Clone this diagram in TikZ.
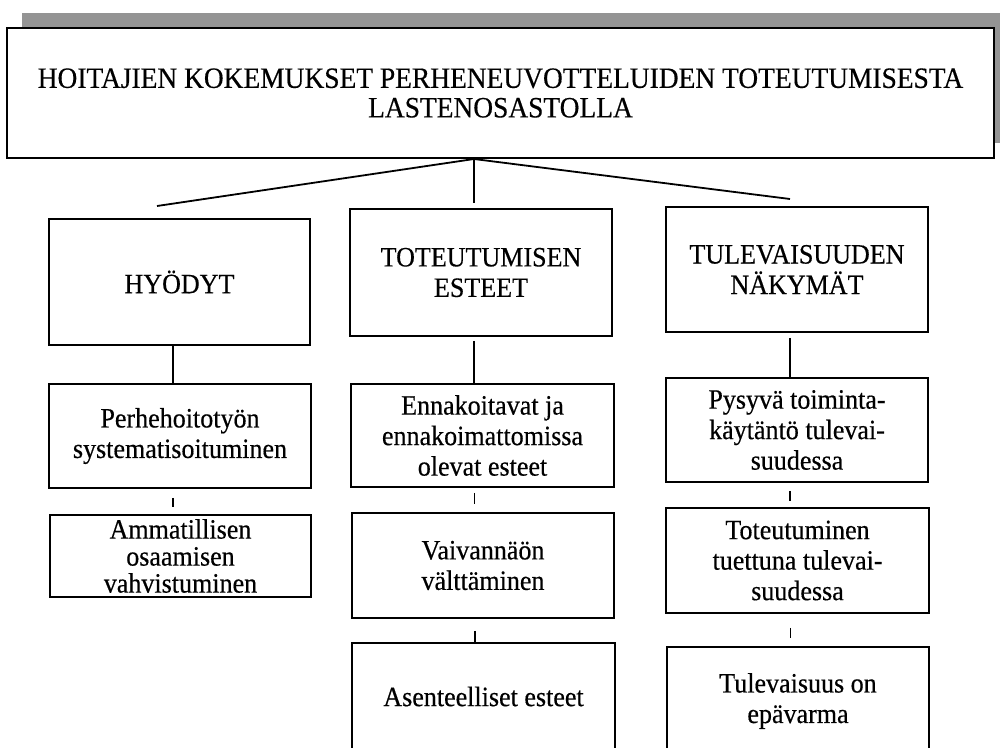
\documentclass[tikz,border=0pt]{standalone}
\usepackage{fontspec}
\setmainfont{Liberation Serif}[FakeStretch=0.93,FakeBold=0.4]
\begin{document}
\begin{tikzpicture}[x=1pt,y=-1pt,
  box/.style={draw,line width=1.8pt,fill=white,align=center,inner sep=0pt,
              font=\fontsize{28}{30.5}\selectfont},
  link/.style={line width=1.8pt},
  tick/.style={line width=1.6pt}]
% page frame
\clip (0,0) rectangle (1000,747);
\fill[white] (0,0) rectangle (1000,747);

% shaded backing of the heading
\fill[black!42] (22,13) rectangle (1012,143);
\node[box,line width=2pt,minimum width=987pt,minimum height=130pt,
      font=\fontsize{29.5}{29.5}\selectfont] (title) at (500.5,93)
  {HOITAJIEN KOKEMUKSET PERHENEUVOTTELUIDEN TOTEUTUMISESTA\\LASTENOSASTOLLA};

% branching lines under the heading
\coordinate (apex) at ([xshift=-26.5pt]title.south);
\coordinate (lend) at (157,206);
\coordinate (mend) at (474,203);
\coordinate (rend) at (790,199);
\draw[link] (lend) -- (apex) -- (rend);
\draw[link] (apex) -- (mend);

% main categories
\node[box,minimum width=261pt,minimum height=126pt] (hyo) at (179.5,282) {HYÖDYT};
\node[box,minimum width=262pt,minimum height=127pt] (est) at (481,272.5) {TOTEUTUMISEN\\ESTEET};
\node[box,minimum width=262pt,minimum height=125pt] (tul) at (797,269.5) {TULEVAISUUDEN\\NÄKYMÄT};

% sub-categories
\node[box,minimum width=262pt,minimum height=104pt] (l1) at (180,436) {Perhehoitotyön\\systematisoituminen};
\node[box,minimum width=261pt,minimum height=82pt,
      font=\fontsize{28}{27}\selectfont] (l2) at (180.5,556) {Ammatillisen\\osaamisen\\vahvistuminen};

\node[box,minimum width=263pt,minimum height=103pt] (m1) at (482.5,435.5) {Ennakoitavat ja\\ennakoimattomissa\\olevat esteet};
\node[box,minimum width=262pt,minimum height=105pt] (m2) at (483,565.5) {Vaivannäön\\välttäminen};
\node[box,minimum width=263pt,minimum height=107pt] (m3) at (483.5,696.5) {Asenteelliset esteet};

\node[box,minimum width=262pt,minimum height=104pt] (r1) at (797,430) {Pysyvä toiminta-\\käytäntö tulevai-\\suudessa};
\node[box,minimum width=263pt,minimum height=105pt] (r2) at (797.5,560.5) {Toteutuminen\\tuettuna tulevai-\\suudessa};
\node[box,minimum width=262pt,minimum height=108pt] (r3) at (798,701) {Tulevaisuus on\\epävarma};

% links from categories to their first sub-category
\draw[link] ([xshift=-6.5pt]hyo.south) -- ([xshift=-6.5pt]hyo.south |- l1.north);
\draw[link,shorten <=4pt] ([xshift=-7pt]est.south) -- ([xshift=-7pt]est.south |- m1.north);
\draw[link,shorten <=5pt] ([xshift=-7pt]tul.south) -- ([xshift=-7pt]tul.south |- r1.north);

% short ticks between sub-categories
\draw[tick,shorten <=9pt,shorten >=7pt] ([xshift=-7pt]l1.south) -- ([xshift=-7pt]l1.south |- l2.north);
\draw[tick,shorten <=5pt,shorten >=8pt] ([xshift=-8pt]m1.south) -- ([xshift=-8pt]m1.south |- m2.north);
\draw[tick,shorten <=12pt] ([xshift=-8pt]m2.south) -- ([xshift=-8pt]m2.south |- m3.north);
\draw[tick,shorten <=8pt,shorten >=6pt] ([xshift=-7pt]r1.south) -- ([xshift=-7pt]r1.south |- r2.north);
\draw[tick,shorten <=14pt,shorten >=8pt] ([xshift=-7pt]r2.south) -- ([xshift=-7pt]r2.south |- r3.north);
\end{tikzpicture}
\end{document}
